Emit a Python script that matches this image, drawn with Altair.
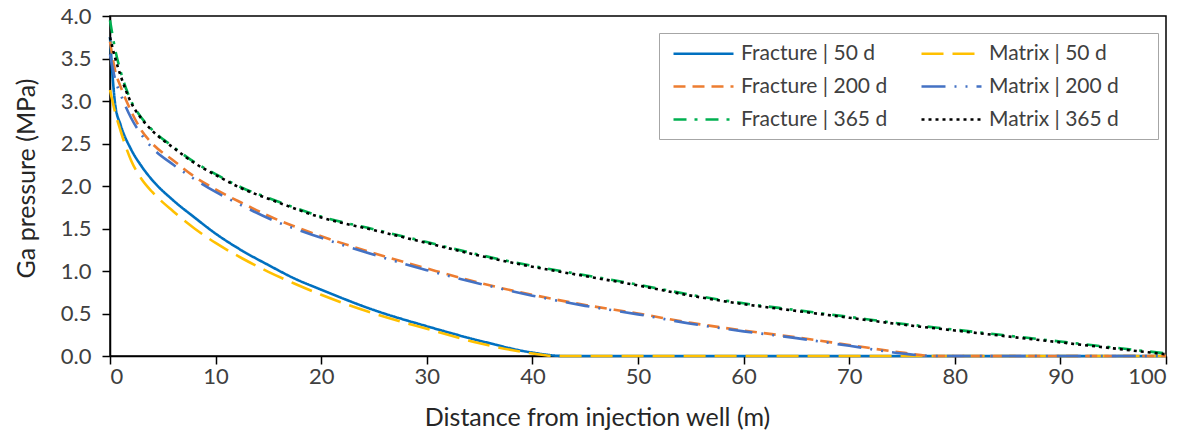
import altair as alt
import pandas as pd

# Legend order is column-major: Fracture column first, then Matrix column
series = ["Fracture | 50 d", "Fracture | 200 d", "Fracture | 365 d",
          "Matrix | 50 d", "Matrix | 200 d", "Matrix | 365 d"]
colors = ["#0070C0", "#ED7D31", "#00B050", "#FFC000", "#4472C4", "#000000"]
dashes = [[1, 0], [12, 7], [13, 8, 3, 8], [22, 9], [24, 9, 2, 9, 2, 9], [3, 4]]

d_f50 = [0, 0.5, 1, 2, 3, 4, 6, 8, 10, 12.5, 15, 17.5, 20, 25, 30, 35, 40, 43, 50, 60, 70, 80, 90, 100]
p_f50 = [3.75, 2.95, 2.72, 2.43, 2.23, 2.07, 1.83, 1.63, 1.44, 1.24, 1.07, 0.91, 0.78, 0.54, 0.35, 0.18, 0.04, 0, 0, 0, 0, 0, 0, 0]

d_m50 = [0, 0.5, 1, 2, 3, 4, 6, 8, 10, 12.5, 15, 17.5, 20, 25, 30, 35, 40, 42, 50, 60, 70, 80, 90, 100]
p_m50 = [3.13, 2.86, 2.65, 2.30, 2.08, 1.93, 1.70, 1.50, 1.33, 1.15, 0.99, 0.85, 0.72, 0.50, 0.32, 0.15, 0.03, 0, 0, 0, 0, 0, 0, 0]

d_200 = [0, 0.5, 1, 2, 3, 4, 6, 8, 10, 12.5, 15, 20, 25, 30, 35, 40, 45, 50, 55, 60, 65, 70, 75, 78, 85, 90, 100]
p_f200 = [3.70, 3.35, 3.17, 2.88, 2.65, 2.50, 2.30, 2.11, 1.96, 1.80, 1.65, 1.41, 1.21, 1.03, 0.86, 0.72, 0.60, 0.50, 0.39, 0.30, 0.22, 0.13, 0.04, 0, 0, 0, 0]
p_m200 = [3.55, 3.25, 3.08, 2.80, 2.60, 2.45, 2.25, 2.08, 1.93, 1.77, 1.62, 1.39, 1.19, 1.01, 0.85, 0.71, 0.59, 0.49, 0.38, 0.29, 0.21, 0.12, 0.03, 0, 0, 0, 0]

d_365 = [0, 0.5, 1, 2, 3, 4, 6, 8, 10, 12.5, 15, 20, 25, 30, 35, 40, 45, 50, 55, 60, 65, 70, 75, 80, 85, 90, 95, 100]
p_f365 = [3.95, 3.60, 3.35, 3.00, 2.80, 2.66, 2.46, 2.28, 2.14, 1.98, 1.86, 1.64, 1.49, 1.34, 1.19, 1.06, 0.95, 0.84, 0.72, 0.62, 0.54, 0.46, 0.38, 0.31, 0.24, 0.17, 0.10, 0.03]
p_m365 = [3.75, 3.50, 3.30, 2.98, 2.79, 2.65, 2.45, 2.27, 2.13, 1.97, 1.85, 1.63, 1.48, 1.33, 1.18, 1.05, 0.94, 0.83, 0.71, 0.61, 0.53, 0.45, 0.37, 0.30, 0.23, 0.16, 0.09, 0.02]

curves = [(d_f50, p_f50), (d_200, p_f200), (d_365, p_f365),
          (d_m50, p_m50), (d_200, p_m200), (d_365, p_m365)]
# drawing order: each Matrix curve over its Fracture twin
draw_order = [0, 2, 4, 1, 3, 5]

rows = []
for name, (ds, ps), k in zip(series, curves, draw_order):
    for d, p in zip(ds, ps):
        rows.append({"series": name, "order": k, "d": d, "p": p})
df = pd.DataFrame(rows).sort_values("order", kind="stable")

FONT = "Lato"

legend = alt.Legend(
    title=None, orient="none", legendX=549, legendY=17, columns=2,
    symbolType="M-3,0H3", symbolSize=400, symbolStrokeWidth=2.5,
    symbolOffset=24, labelOffset=26, labelFont=FONT, labelFontSize=21,
    labelColor="#404040", rowPadding=11, columnPadding=28, padding=9,
    strokeColor="#A6A6A6", fillColor="white", labelLimit=400,
    labelExpr="indexof(datum.label, 'Matrix') == 0 ? datum.label + '\u2800\u2800' : datum.label",
)

chart = alt.Chart(df).mark_line(strokeWidth=2.6, interpolate="monotone").encode(
    x=alt.X("d:Q", scale=alt.Scale(domain=[0, 100], nice=False),
            axis=alt.Axis(title="Distance from injection well (m)", values=list(range(0, 101, 10)),
                          titleX=487, titleY=69, titleBaseline="alphabetic",
                          titleAlign="center", labelPadding=2)),
    y=alt.Y("p:Q", scale=alt.Scale(domain=[0, 4], nice=False),
            axis=alt.Axis(title="Ga pressure (MPa)", values=[0, 0.5, 1, 1.5, 2, 2.5, 3, 3.5, 4],
                          format=".1f", titleX=-84, titleY=162, titleAngle=-90,
                          titleAlign="center", titleBaseline="middle", labelPadding=11)),
    color=alt.Color("series:N", scale=alt.Scale(domain=series, range=colors), legend=legend),
    strokeDash=alt.StrokeDash("series:N", scale=alt.Scale(domain=series, range=dashes), legend=legend),
    detail="order:O",
).properties(
    width=1056, height=340,
    autosize=alt.AutoSizeParams(type="none"),
    padding={"left": 110, "top": 16, "right": 29, "bottom": 87},
).configure_view(
    stroke="#000000", strokeWidth=1.5
).configure_axis(
    grid=False, domainColor="#000000", domainWidth=1.5, tickColor="#000000",
    tickSize=8, tickWidth=1.5, labelFont=FONT, labelFontSize=22, labelColor="#404040",
    titleFont=FONT, titleFontSize=25, titleFontWeight="normal", titleColor="#262626",
)

chart.save("out.html", embed_options={"renderer": "svg", "actions": False})
